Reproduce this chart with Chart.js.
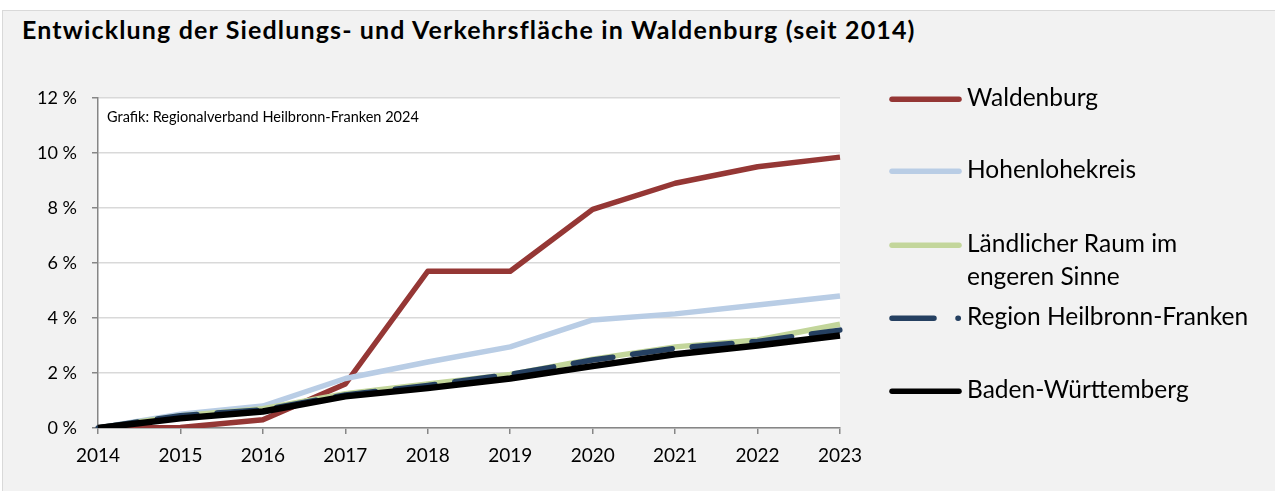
<!DOCTYPE html>
<html>
<head>
<meta charset="utf-8">
<script src="https://cdn.jsdelivr.net/npm/chart.js@4"></script>
<style>
  html, body { margin: 0; padding: 0; background: #fff; }
  #frame {
    position: absolute; left: 2px; top: 10px; width: 1273px; height: 481px;
    background: #f2f2f2; border-top: 1px solid #d9d9d9; border-left: 1px solid #d9d9d9; box-sizing: border-box;
  }
  #title {
    position: absolute; left: 22px; top: 14px; margin: 0; line-height: 30px;
    font: bold 25px Lato, sans-serif; color: #000; letter-spacing: 1.15px; white-space: nowrap;
  }
  #wrap { position: absolute; left: 0; top: 0; width: 1275px; height: 491px; }
  #legend { position: absolute; left: 0; top: 0; font: 24.5px Lato, sans-serif; color: #000; }
  .item { position: absolute; left: 889px; }
  .item canvas { position: absolute; left: 0; }
  .item span { position: absolute; left: 78px; line-height: 32.5px; white-space: nowrap; }
</style>
</head>
<body>
<div id="frame"></div>
<h1 id="title">Entwicklung der Siedlungs- und Verkehrsfläche in Waldenburg (seit 2014)</h1>
<div id="wrap"><canvas id="chart" width="1275" height="491"></canvas></div>
<div id="legend"></div>
<script>
const years = ['2014', '2015', '2016', '2017', '2018', '2019', '2020', '2021', '2022', '2023'];

// Zuwachs gegenüber 2014 in Prozent
const waldenburg = [0, 0.02, 0.3, 1.6, 5.7, 5.7, 7.95, 8.9, 9.5, 9.85];
const hohenlohekreis = [0, 0.5, 0.8, 1.8, 2.4, 2.95, 3.93, 4.15, 4.47, 4.8];
const laendlicherRaum = [0, 0.45, 0.7, 1.25, 1.6, 1.95, 2.5, 2.95, 3.2, 3.77];
const regionHNF = [0, 0.45, 0.66, 1.2, 1.55, 1.95, 2.47, 2.9, 3.15, 3.56];
const badenWuerttemberg = [0, 0.35, 0.6, 1.15, 1.45, 1.8, 2.25, 2.68, 3.0, 3.36];

const seriesNames = ['Waldenburg', 'Hohenlohekreis', 'Ländlicher Raum im|engeren Sinne', 'Region Heilbronn-Franken', 'Baden-Württemberg'];
const seriesColors = ['#953735', '#b9cde5', '#c3d69b', '#254061', '#000000'];
const seriesValues = [waldenburg, hohenlohekreis, laendlicherRaum, regionHNF, badenWuerttemberg];
const yTicks = [0, 2, 4, 6, 8, 10, 12];
const sourceNote = 'Grafik: Regionalverband Heilbronn-Franken 2024';

const datasets = seriesValues.map((vals, i) => ({
  label: seriesNames[i].replace('|', ' '),
  data: vals,
  borderColor: seriesColors[i],
  borderWidth: i === 4 ? 6.5 : 5.5,
  borderDash: i === 3 ? [40, 20] : [],
  borderCapStyle: i === 3 ? 'round' : 'butt',
  borderJoinStyle: 'round',
  pointRadius: 0,
  tension: 0,
  order: 4 - i
}));

// Quellenhinweis oben links in der Zeichenfläche
const notePlugin = {
  id: 'note',
  beforeDatasetsDraw(chart) {
    const { ctx, chartArea } = chart;
    ctx.save();
    ctx.font = '14.5px Lato, sans-serif';
    ctx.fillStyle = '#000';
    ctx.textBaseline = 'middle';
    ctx.fillText(sourceNote, chartArea.left + 9, chartArea.top + 19);
    ctx.restore();
  }
};

const plotBg = {
  id: 'plotBg',
  beforeDraw(chart) {
    const { ctx, chartArea: a } = chart;
    ctx.save();
    ctx.fillStyle = '#fff';
    ctx.fillRect(a.left, a.top, a.right - a.left, a.bottom - a.top);
    ctx.restore();
  }
};

new Chart(document.getElementById('chart'), {
  type: 'line',
  data: { labels: years, datasets },
  plugins: [plotBg, notePlugin],
  options: {
    responsive: false,
    animation: false,
    layout: { padding: { left: 0, right: 435, top: 98, bottom: 23 } },
    plugins: { legend: { display: false }, tooltip: { enabled: false } },
    scales: {
      x: {
        offset: false,
        afterFit: s => { s.height = 40; },
        grid: { display: true, drawOnChartArea: false, color: '#868686', lineWidth: 1.5, tickLength: 6, offset: false },
        border: { color: '#868686', width: 1.5 },
        ticks: { color: '#000', font: { family: 'Lato', size: 19 }, padding: 10, maxRotation: 0 }
      },
      y: {
        min: 0, max: 12,
        afterFit: s => { s.width = 98; },
        afterBuildTicks: s => { s.ticks = yTicks.map(v => ({ value: v })); },
        grid: { color: '#d9d9d9', lineWidth: 1.5, tickLength: 6, tickColor: '#868686' },
        border: { color: '#868686', width: 1.5 },
        ticks: { color: '#000', font: { family: 'Lato', size: 18 }, padding: 15, callback: v => v + ' %' }
      }
    }
  }
});

// Legende rechts neben dem Diagramm
const legendBaselines = [107, 179, 252.7, 325.7, 399];
const legend = document.getElementById('legend');
seriesNames.forEach((name, i) => {
  const item = document.createElement('div');
  item.className = 'item';
  item.style.top = (legendBaselines[i] - 25.7) + 'px';
  const c = document.createElement('canvas');
  c.width = 76; c.height = 36;
  const g = c.getContext('2d');
  const cy = 18.2;
  g.strokeStyle = seriesColors[i];
  g.lineWidth = 5.5;
  g.lineCap = 'round';
  g.beginPath();
  if (i === 3) {
    g.moveTo(3, cy); g.lineTo(45, cy);
    g.moveTo(69, cy); g.lineTo(69.3, cy);
  } else {
    g.moveTo(3, cy); g.lineTo(70, cy);
  }
  g.stroke();
  item.appendChild(c);
  const span = document.createElement('span');
  span.innerHTML = name.replace('|', '<br>');
  item.appendChild(span);
  legend.appendChild(item);
});
</script>
</body>
</html>
